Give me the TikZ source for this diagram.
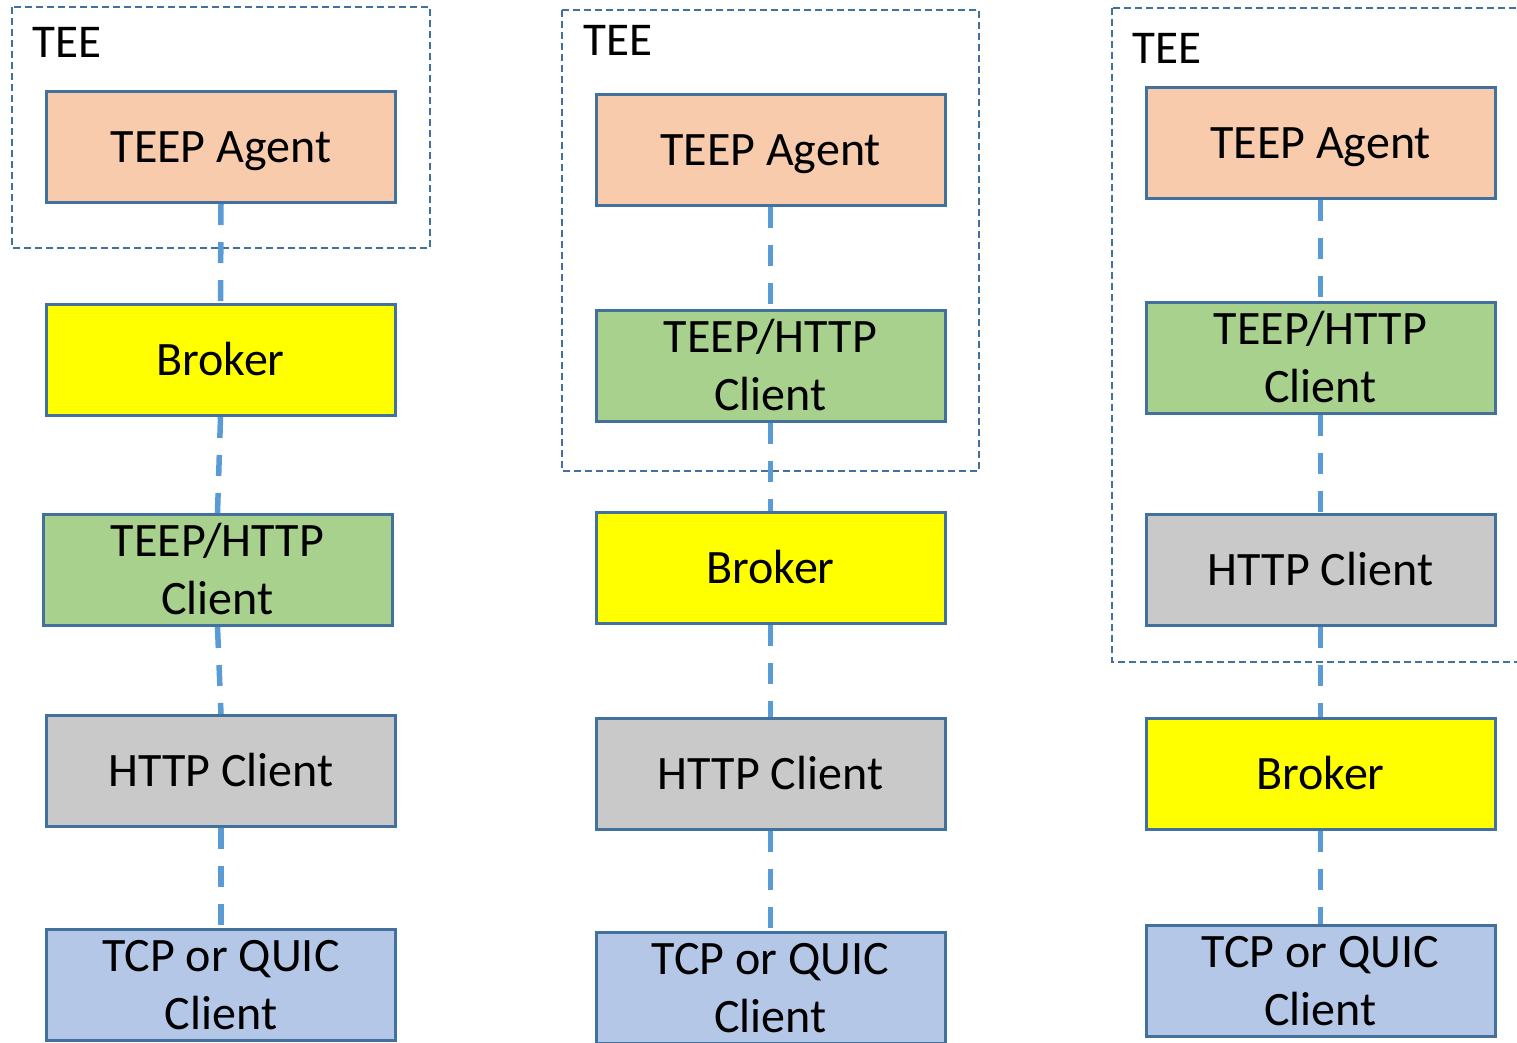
\documentclass[tikz,border=0pt]{standalone}
\usepackage{fontspec}
\setmainfont{Carlito}
\newcommand{\twoline}[2]{\begin{tabular}[b]{@{}c@{}}#1\\#2\end{tabular}}
\definecolor{edge}{HTML}{41719C}
\definecolor{linkblue}{HTML}{5B9BD5}
\definecolor{agentfill}{HTML}{F8CBAD}
\definecolor{brokerfill}{HTML}{FFFF00}
\definecolor{teepfill}{HTML}{A9D18E}
\definecolor{httpfill}{HTML}{C9C9C9}
\definecolor{tcpfill}{HTML}{B4C7E7}
\tikzset{
  layer/.style={draw=edge, line width=3pt, minimum width=349pt, minimum height=111pt,
    inner sep=0pt, font=\fontsize{48}{58}\selectfont, text height=30pt, text depth=0pt},
  twolayer/.style={layer, text height=88pt, text depth=0pt},
  agent/.style={layer, fill=agentfill},
  broker/.style={layer, fill=brokerfill},
  teep/.style={twolayer, fill=teepfill},
  httpc/.style={layer, fill=httpfill},
  tcp/.style={twolayer, fill=tcpfill},
  teebox/.style={draw=edge, line width=2.2pt, dash pattern=on 7pt off 4pt},
  teelabel/.style={anchor=base west, inner sep=0pt, font=\fontsize{47}{56}\selectfont},
  link/.style={draw=linkblue, line width=5.5pt, dash pattern=on 21pt off 17pt}
}
\begin{document}
\begin{tikzpicture}[x=1pt, y=-1pt]
\useasboundingbox (0,0) rectangle (1517,1042);
\clip (0,0) rectangle (1517,1042);

% trusted execution environment boundaries
\draw[teebox] (12,7) rectangle (430,248);
\draw[teebox] (562,10) rectangle (979,471);
\draw[teebox] (1112,8) rectangle (1540,662);
\node[teelabel] (tee1) at (32,57) {TEE};
\node[teelabel] (tee2) at (583,55) {TEE};
\node[teelabel] (tee3) at (1132,63) {TEE};

% left stack: broker outside the TEE, right below the agent
\node[agent]  (a1) at (221,147)   {TEEP Agent};
\node[broker] (b1) at (220.5,360) {Broker};
\node[teep]   (t1) at (217.5,570) {\twoline{TEEP/HTTP}{Client}};
\node[httpc]  (h1) at (221,771)   {HTTP Client};
\node[tcp]    (q1) at (221,985)   {\twoline{TCP or QUIC}{Client}};

% middle stack: TEEP/HTTP client inside the TEE
\node[agent]  (a2) at (770.5,150) {TEEP Agent};
\node[teep]   (t2) at (770.5,366) {\twoline{TEEP/HTTP}{Client}};
\node[broker] (b2) at (770.5,568) {Broker};
\node[httpc]  (h2) at (770.5,774) {HTTP Client};
\node[tcp]    (q2) at (770.5,988) {\twoline{TCP or QUIC}{Client}};

% right stack: HTTP client inside the TEE as well
\node[agent]  (a3) at (1320.5,143) {TEEP Agent};
\node[teep]   (t3) at (1320.5,358) {\twoline{TEEP/HTTP}{Client}};
\node[httpc]  (h3) at (1320.5,570) {HTTP Client};
\node[broker] (b3) at (1320.5,774) {Broker};
\node[tcp]    (q3) at (1320.5,981) {\twoline{TCP or QUIC}{Client}};

% dashed links between layers
\draw[link] (a1.south) -- (b1.north);
\draw[link] (b1.south) -- (t1.north);
\draw[link] (t1.south) -- (h1.north);
\draw[link] (h1.south) -- (q1.north);

\draw[link] (a2.south) -- (t2.north);
\draw[link] (t2.south) -- (b2.north);
\draw[link] (b2.south) -- (h2.north);
\draw[link] (h2.south) -- (q2.north);

\draw[link] (a3.south) -- (t3.north);
\draw[link] (t3.south) -- (h3.north);
\draw[link] (h3.south) -- (b3.north);
\draw[link] (b3.south) -- (q3.north);
\end{tikzpicture}
\end{document}
